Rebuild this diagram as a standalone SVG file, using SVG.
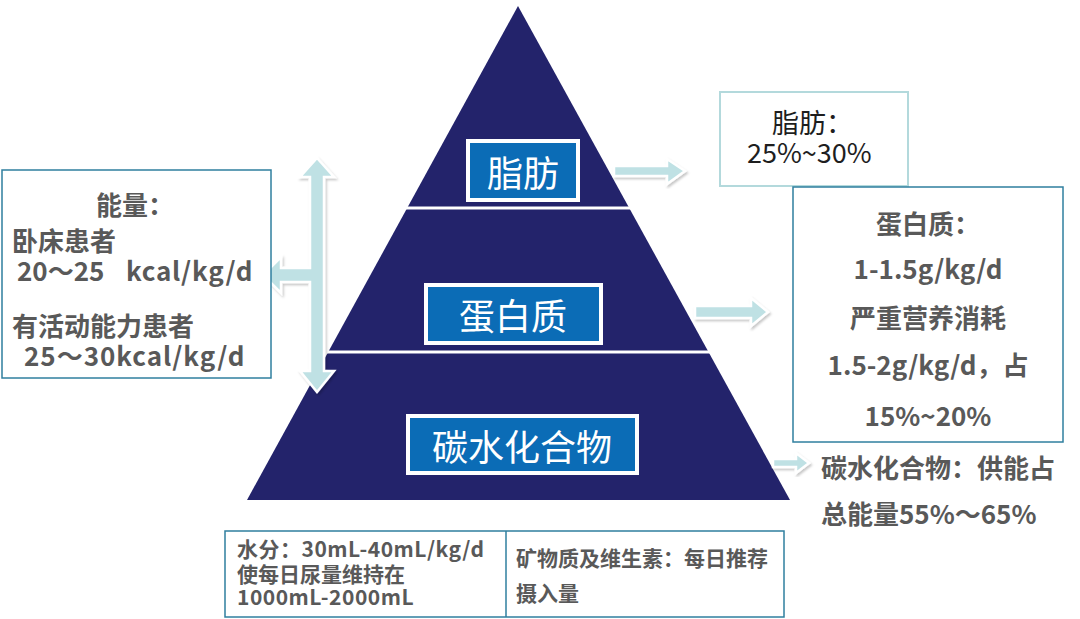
<svg xmlns="http://www.w3.org/2000/svg" width="1080" height="619" viewBox="0 0 1080 619">
  <defs>
    <filter id="sh" x="-20%" y="-20%" width="140%" height="140%">
      <feDropShadow dx="1.5" dy="2" stdDeviation="1.2" flood-color="#000" flood-opacity="0.22"/>
    </filter>
    <style>
      .tier { fill: #23236b; }
      .sep { stroke: #ffffff; stroke-width: 3; }
      .lab { fill: #0b6cb6; stroke: #ffffff; stroke-width: 4; }
      .labt { font-family: "Noto Sans CJK SC", "Noto Sans", sans-serif; font-size: 36px; fill: #ffffff; text-anchor: middle; dominant-baseline: central; }
      .box { fill: #ffffff; stroke: #2f7f9f; stroke-width: 1.5; }
      .box2 { fill: #ffffff; stroke: #b3d9dc; stroke-width: 2; }
      .g { font-family: "Noto Sans CJK SC", "Noto Sans", sans-serif; font-weight: 700; fill: #595959; font-size: 26px; }
      .n { font-family: "Noto Sans CJK SC", "Noto Sans", sans-serif; font-weight: 400; fill: #1e1e1e; font-size: 27px; }
      .s { font-family: "Noto Sans CJK SC", "Noto Sans", sans-serif; font-weight: 700; fill: #595959; font-size: 21px; }
      .arr { fill: #bfe1e4; stroke: #ffffff; stroke-width: 2.5; stroke-linejoin: miter; filter: url(#sh); }
    </style>
  </defs>
  <rect width="1080" height="619" fill="#ffffff"/>

  <g id="pyramid">
    <polygon class="tier" points="518,6 247,500 790,500"/>
    <line class="sep" x1="400" y1="208" x2="640" y2="208"/>
    <line class="sep" x1="318" y1="352" x2="720" y2="352"/>
  </g>

  <g id="node-fat">
    <rect class="lab" x="468" y="141" width="110" height="59"/>
    <text class="labt" x="523" y="171">脂肪</text>
  </g>
  <g id="node-protein">
    <rect class="lab" x="426" y="285" width="175" height="58"/>
    <text class="labt" x="513" y="314">蛋白质</text>
  </g>
  <g id="node-carb">
    <rect class="lab" x="408" y="416" width="229" height="57"/>
    <text class="labt" x="522" y="445">碳水化合物</text>
  </g>

  <g id="connectors">
    <path class="arr" d="M317,158 L334,177 L324,177 L324,371 L334,371 L317,392 L300,371 L310,371 L310,282 L281,282 L281,293 L263,275 L281,257 L281,268 L310,268 L310,177 L300,177 Z"/>
    <path class="arr" d="M614,166 L667,166 L667,159 L685,171 L667,184 L667,176 L614,176 Z"/>
    <path class="arr" d="M695,306 L751,306 L751,298 L768,312 L751,326 L751,318 L695,318 Z"/>
    <path class="arr" d="M773,459 L796,459 L796,453 L809,463 L796,473 L796,467 L773,467 Z"/>
  </g>

  <g id="box-energy">
    <rect class="box" x="2" y="170" width="269" height="208"/>
    <text class="g" x="96" y="215">能量：</text>
    <text class="g" x="12" y="251">卧床患者</text>
    <text class="g" x="17" y="281">20～25<tspan x="126" letter-spacing="0.8">kcal/kg/d</tspan></text>
    <text class="g" x="12" y="336">有活动能力患者</text>
    <text class="g" x="24" y="366" letter-spacing="1">25～30kcal/kg/d</text>
  </g>

  <g id="box-fat">
    <rect class="box2" x="720" y="92" width="188" height="94"/>
    <text class="n" x="772" y="133">脂肪：</text>
    <text class="n" x="747" y="163" font-size="28">25%~30%</text>
  </g>

  <g id="box-protein">
    <rect class="box" x="793" y="187" width="270" height="255"/>
    <g text-anchor="middle">
      <text class="g" x="928" y="234">蛋白质：</text>
      <text class="g" x="928" y="279" font-size="27">1-1.5g/kg/d</text>
      <text class="g" x="928" y="328" font-size="27">严重营养消耗</text>
      <text class="g" x="928" y="375">1.5-2g/kg/d，占</text>
      <text class="g" x="928" y="426" font-size="27">15%~20%</text>
    </g>
  </g>

  <g id="text-carb">
    <text class="g" x="821" y="478" font-size="27">碳水化合物：供能占</text>
    <text class="g" x="821" y="524" font-size="27">总能量55%～65%</text>
  </g>

  <g id="table-bottom">
    <rect class="box" x="225" y="531" width="559" height="86"/>
    <line x1="506" y1="531" x2="506" y2="617" stroke="#2f7f9f" stroke-width="1.5"/>
    <text class="s" x="237" y="557" letter-spacing="0.5">水分：30mL-40mL/kg/d</text>
    <text class="s" x="237" y="582">使每日尿量维持在</text>
    <text class="s" x="237" y="605" letter-spacing="0.5">1000mL-2000mL</text>
    <text class="s" x="516" y="566">矿物质及维生素：每日推荐</text>
    <text class="s" x="516" y="601">摄入量</text>
  </g>
</svg>
